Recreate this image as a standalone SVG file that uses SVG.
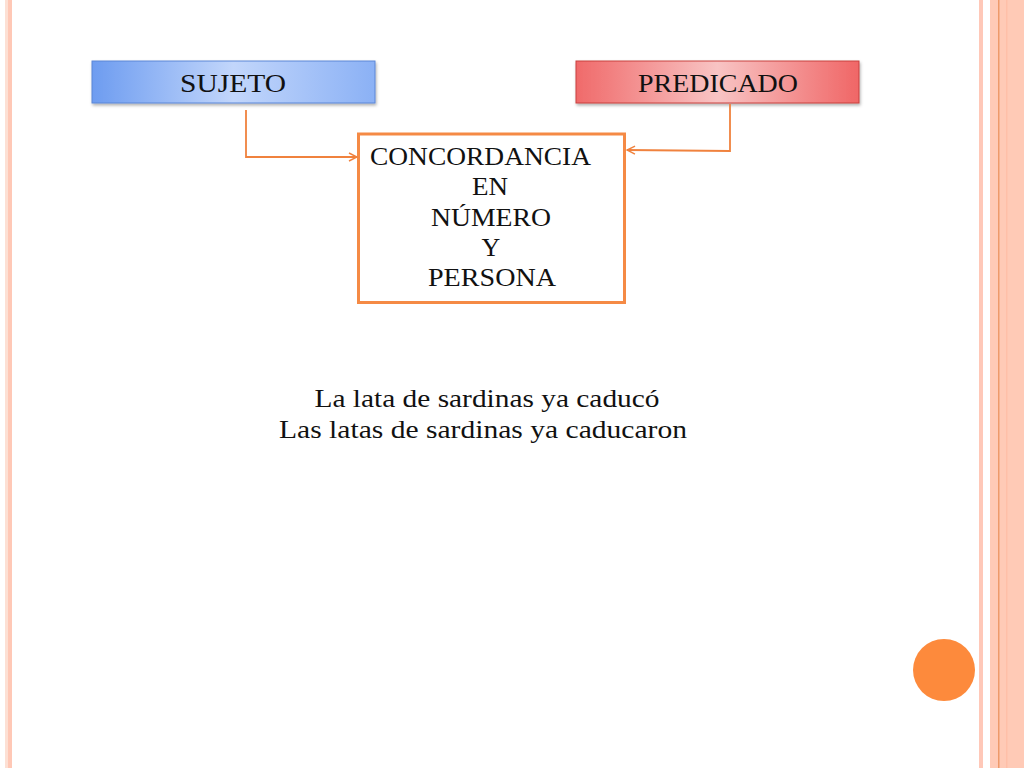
<svg xmlns="http://www.w3.org/2000/svg" width="1024" height="768" viewBox="0 0 1024 768">
<defs>
<linearGradient id="gBlue" x1="0" y1="0" x2="1" y2="0">
<stop offset="0" stop-color="#6d9cf0"/>
<stop offset="0.5" stop-color="#c2d6fb"/>
<stop offset="1" stop-color="#8bb1f5"/>
</linearGradient>
<linearGradient id="gRed" x1="0" y1="0" x2="1" y2="0">
<stop offset="0" stop-color="#f06a6a"/>
<stop offset="0.5" stop-color="#f8c4c4"/>
<stop offset="1" stop-color="#f06666"/>
</linearGradient>
<filter id="sh" x="-5%" y="-20%" width="110%" height="150%">
<feDropShadow dx="1" dy="2" stdDeviation="1.5" flood-color="#000" flood-opacity="0.3"/>
</filter>
<marker id="arr" viewBox="0 0 10 10" refX="9" refY="5" markerWidth="10" markerHeight="10" markerUnits="userSpaceOnUse" orient="auto">
<path d="M1,1 L9,5 L1,9" fill="none" stroke="#f0823e" stroke-width="1.5"/>
</marker>
</defs>
<style>
text{font-family:"Liberation Serif","DejaVu Serif",serif;fill:#111;}
.lbl{font-size:26px;text-anchor:middle;}
.con{fill:none;stroke:#f0823e;stroke-width:1.8;}
</style>
<rect width="1024" height="768" fill="#fff"/>
<g id="border">
<rect x="5" y="0" width="3" height="768" fill="#fde0d4"/>
<rect x="8" y="0" width="4" height="768" fill="#ffc8b6"/>
<rect x="979" y="0" width="4" height="768" fill="#ffc8b8"/>
<rect x="990" y="0" width="34" height="768" fill="#ffcab6"/>
<rect x="998" y="0" width="1.5" height="768" fill="#ee9a6a"/>
<rect x="1006" y="0" width="1.5" height="768" fill="#ffbfa8"/>
</g>
<g id="sujeto">
<rect x="92" y="61" width="283" height="42" fill="url(#gBlue)" stroke="#5b86d6" stroke-width="1" filter="url(#sh)"/>
<text class="lbl" x="233" y="92" textLength="106" lengthAdjust="spacingAndGlyphs">SUJETO</text>
</g>
<g id="predicado">
<rect x="576" y="61" width="283" height="42" fill="url(#gRed)" stroke="#c8403e" stroke-width="1" filter="url(#sh)"/>
<text class="lbl" x="718" y="92" textLength="160" lengthAdjust="spacingAndGlyphs">PREDICADO</text>
</g>
<g id="concordancia">
<rect x="358.5" y="134" width="266" height="168.5" fill="#fff" stroke="#f58a45" stroke-width="3"/>
<text class="lbl" x="480.5" y="165" textLength="221" lengthAdjust="spacingAndGlyphs">CONCORDANCIA</text>
<text class="lbl" x="490" y="195" textLength="36" lengthAdjust="spacingAndGlyphs">EN</text>
<text class="lbl" x="491" y="226" textLength="120" lengthAdjust="spacingAndGlyphs">NÚMERO</text>
<text class="lbl" x="491" y="256">Y</text>
<text class="lbl" x="492" y="286" textLength="128" lengthAdjust="spacingAndGlyphs">PERSONA</text>
</g>
<g id="connectors">
<path class="con" d="M246,110 V157 H357" marker-end="url(#arr)"/>
<path class="con" d="M730,104 V151 L627,150" marker-end="url(#arr)"/>
</g>
<g id="ejemplos">
<text class="lbl" x="487" y="407" textLength="345" lengthAdjust="spacingAndGlyphs">La lata de sardinas ya caducó</text>
<text class="lbl" x="483" y="438" textLength="408" lengthAdjust="spacingAndGlyphs">Las latas de sardinas ya caducaron</text>
</g>
<g id="dot">
<circle cx="944" cy="670" r="31" fill="#fd8a3c"/>
</g>
</svg>
